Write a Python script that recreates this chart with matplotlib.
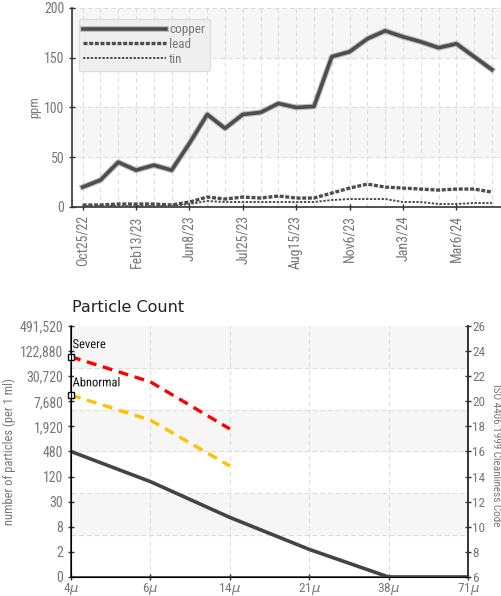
import matplotlib
matplotlib.use("Agg")
import matplotlib.pyplot as plt
import matplotlib.patheffects as pe
from matplotlib import font_manager

# ---------------------------------------------------------------------------
# data
# ---------------------------------------------------------------------------
tick_labels = ["Oct25/22", "Feb13/23", "Jun8/23", "Jul25/23",
               "Aug15/23", "Nov6/23", "Jan3/24", "Mar6/24"]
copper = [20, 27, 45, 37, 42, 37, 64, 93, 79, 93, 95, 104,
          100, 101, 151, 156, 169, 177, 171, 166, 160, 164, 151, 138]
lead = [2, 2, 3, 3, 3, 2, 5, 10, 8, 10, 9, 11,
        9, 9, 14, 19, 23, 20, 19, 18, 17, 18, 18, 15]
tin = [1, 1, 1, 1, 1, 1, 3, 6, 5, 5, 5, 5,
       5, 5, 7, 8, 8, 8, 5, 5, 3, 3, 4, 4]

sizes = ["4$\\mu$", "6$\\mu$", "14$\\mu$", "21$\\mu$", "38$\\mu$", "71$\\mu$"]
measured = [16.0, 13.6, 10.75, 8.2, 6.0, 6.0]   # ISO code
severe = [23.55, 21.55, 17.8]
abnormal = [20.5, 18.5, 14.85]
iso_codes = [6, 8, 10, 12, 14, 16, 18, 20, 22, 24, 26]
count_labels = ["0", "2", "8", "30", "120", "480", "1,920", "7,680",
                "30,720", "122,880", "491,520"]

# ---------------------------------------------------------------------------
# font: try to find a narrow / condensed face for the axis text
# ---------------------------------------------------------------------------
narrow_name, narrow_stretch = None, "normal"
fonts = font_manager.fontManager.ttflist
for want in ("Liberation Sans Narrow", "Roboto Condensed", "DejaVu Sans",
             "Noto Sans", "Open Sans", "Roboto"):
    for f in fonts:
        if f.name != want or f.style != "normal":
            continue
        if want == "Liberation Sans Narrow" or want == "Roboto Condensed":
            narrow_name, narrow_stretch = want, "normal"
            break
        if f.stretch in ("condensed", "semi-condensed", "extra-condensed"):
            narrow_name, narrow_stretch = want, f.stretch
            break
    if narrow_name:
        break

if narrow_name:
    plt.rcParams['font.family'] = [narrow_name, 'DejaVu Sans']
    plt.rcParams['font.stretch'] = narrow_stretch
    TICK_FS = 10
else:
    plt.rcParams['font.family'] = ['DejaVu Sans']
    TICK_FS = 8.5
plt.rcParams['mathtext.fontset'] = 'dejavusans'

TXT = "#777777"
SPINE = "#333333"
BAND = "#f6f6f6"
GRID = "#dddddd"

fig = plt.figure(figsize=(5.01, 5.96), dpi=100)

# ---------------------------------------------------------------------------
# top chart: wear metals
# ---------------------------------------------------------------------------
ax = fig.add_axes([0.1437, 0.6527, 0.856, 0.334])
x = list(range(len(copper)))
ax.set_xlim(-0.6, len(copper) - 0.5)
ax.set_ylim(0, 200)

for lo in (50, 150):
    ax.axhspan(lo, lo + 50, color=BAND, zorder=0)
for yy in (50, 100, 150, 200):
    ax.axhline(yy, color=GRID, lw=0.8, ls=(0, (4, 3)), zorder=1)
for xx in x:
    ax.axvline(xx, color=GRID, lw=0.8, ls=(0, (4, 3)), zorder=1)

shadow = [pe.Stroke(linewidth=4.2, foreground="#bbbbbb"), pe.Normal()]
ax.plot(x, copper, color="#4d4d4d", lw=2.6, label="copper", zorder=4,
        solid_joinstyle="round", path_effects=shadow)
ax.plot(x, lead, color="#4d4d4d", lw=2.4, ls=(0, (1.2, 0.5)), label="lead", zorder=3)
ax.plot(x, tin, color="#4d4d4d", lw=1.4, ls=(0, (1.2, 0.8)), label="tin", zorder=3)

ax.set_xticks(x[::3])
ax.set_xticklabels(tick_labels, rotation=90)
ax.set_yticks([0, 50, 100, 150, 200])
ax.set_ylabel("ppm", color=TXT, fontsize=9, labelpad=2)
ax.tick_params(colors=TXT, labelsize=TICK_FS, length=4, direction="inout", width=1)
ax.tick_params(axis="x", pad=4)
for s in ("top", "right"):
    ax.spines[s].set_visible(False)
for s in ("left", "bottom"):
    ax.spines[s].set_color(SPINE)
    ax.spines[s].set_linewidth(1.2)
ax.tick_params(color=SPINE)

leg = ax.legend(loc="upper left", handlelength=6.3, fontsize=TICK_FS - 0.5,
                labelspacing=0.15, borderpad=0.35, handletextpad=0.2,
                bbox_to_anchor=(0.0, 0.98), fancybox=True, framealpha=1)
leg.get_frame().set_facecolor("#efefef")
leg.get_frame().set_edgecolor("#dddddd")
for t in leg.get_texts():
    t.set_color(TXT)

# ---------------------------------------------------------------------------
# bottom chart: particle count
# ---------------------------------------------------------------------------
bx = fig.add_axes([0.1417, 0.0319, 0.7924, 0.4211])
xs = list(range(len(sizes)))
bx.set_xlim(0, len(sizes) - 1)
bx.set_ylim(6, 26)

step = 20 / 6
for k in range(6):
    lo = 6 + k * step
    if k % 2 == 1:
        bx.axhspan(lo, lo + step, color=BAND, zorder=0)
    if k > 0:
        bx.axhline(lo, color=GRID, lw=0.8, ls=(0, (4, 3)), zorder=1)
for xx in xs[1:-1]:
    bx.axvline(xx, color=GRID, lw=0.8, ls=(0, (4, 3)), zorder=1)

bx.plot(xs, measured, color="#444444", lw=2.6, zorder=4, solid_joinstyle="round")
bx.plot(xs[:3], severe, color="#ff0000", lw=2.4, ls=(0, (3, 2)), zorder=3)
bx.plot(xs[:3], abnormal, color="#ffc000", lw=2.4, ls=(0, (3, 2)), zorder=3)
bx.plot([0], [severe[0]], marker="s", ms=5, mfc="white", mec="#111111", mew=1,
        zorder=6, clip_on=False)
bx.plot([0], [abnormal[0]], marker="s", ms=5, mfc="white", mec="#111111", mew=1,
        zorder=6, clip_on=False)
halo = [pe.withStroke(linewidth=2.5, foreground="white")]
bx.text(0.02, severe[0] + 0.45, "Severe", fontsize=TICK_FS - 1, color="#111111",
        va="bottom", ha="left", path_effects=halo, zorder=7)
bx.text(0.02, abnormal[0] + 0.45, "Abnormal", fontsize=TICK_FS - 1, color="#111111",
        va="bottom", ha="left", path_effects=halo, zorder=7)

bx.set_xticks(xs)
bx.set_xticklabels(sizes)
bx.set_yticks(iso_codes)
bx.set_yticklabels(count_labels)
bx.set_ylabel("number of particles (per 1 ml)", color=TXT, fontsize=9, labelpad=3)
bx.tick_params(colors=TXT, labelsize=TICK_FS, length=4, direction="inout", width=1,
               color=SPINE)
bx.tick_params(axis="x", pad=1, labelsize=TICK_FS - 0.5)
bx.spines["top"].set_visible(False)
for s in ("left", "bottom", "right"):
    bx.spines[s].set_color(SPINE)
    bx.spines[s].set_linewidth(1.2)

rx = bx.twinx()
rx.set_ylim(6, 26)
rx.set_yticks(iso_codes)
rx.tick_params(colors=TXT, labelsize=TICK_FS - 0.5, length=4, direction="inout",
               width=1, color=SPINE, pad=1)
rx.spines["top"].set_visible(False)
rx.spines["right"].set_color(SPINE)
rx.spines["right"].set_linewidth(1.2)
fig.text(496 / 501, 1 - 455 / 596, "ISO 4406:1999 Cleanliness Code", color=TXT,
         fontsize=8, rotation=-90, ha="center", va="center")

fig.text(0.1437, 1 - 312 / 596, "Particle Count", fontsize=11.5, color="#222222",
         family="DejaVu Sans", stretch="normal", ha="left", va="baseline")

fig.savefig("out.png", dpi=100)
